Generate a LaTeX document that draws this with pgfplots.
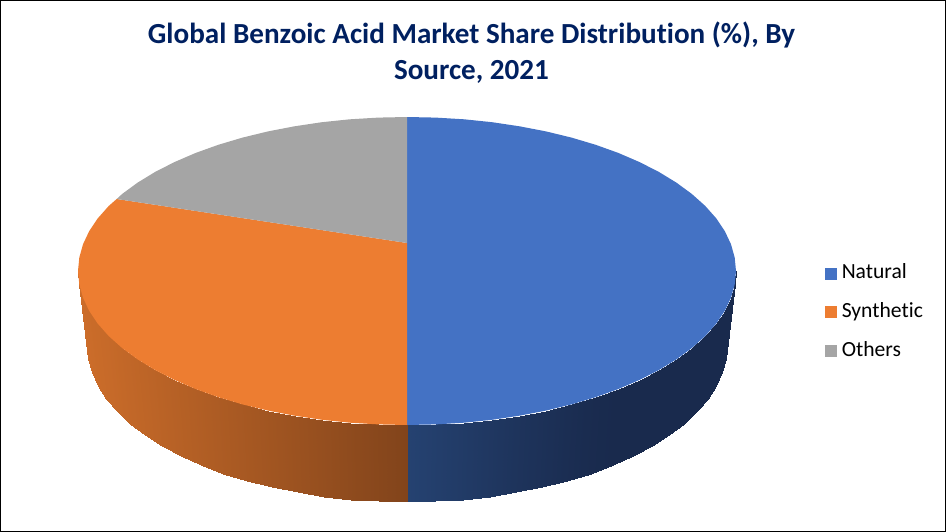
\documentclass[border=0pt]{standalone}
\usepackage{pgfplots}
\pgfplotsset{compat=1.18}
\usepackage{fontspec}
\setmainfont[Ligatures=NoCommon]{Carlito}

\definecolor{blueTop}{RGB}{68,114,196}
\definecolor{orangeTop}{RGB}{237,125,49}
\definecolor{greyTop}{RGB}{165,165,165}
\definecolor{titleBlue}{RGB}{0,32,96}

\pgfplotsset{
	colormap={sideblue}{rgb255(0cm)=(37,66,113); rgb255(1cm)=(25,42,77)},
	colormap={sideorange}{rgb255(0cm)=(204,109,42); rgb255(1cm)=(130,68,27)},
}

\begin{document}
\begin{tikzpicture}
\begin{axis}[
	hide axis,
	scale only axis,
	width=709.5pt,
	height=399pt,
	xmin=0, xmax=946,
	ymin=0, ymax=532,
	zmin=-1, zmax=1,
	y dir=reverse,
	view={0}{90},
	clip=false,
	point meta min=0,
	point meta max=1,
	legend cell align=left,
	legend style={
		at={(0.8715,0.5039)},
		anchor=north west,
		draw=none,
		fill=none,
		inner sep=0pt,
		font=\fontsize{16.2}{16.2}\selectfont,
		row sep=15pt,
		nodes={inner sep=0pt, text height=11pt, text depth=3pt},
		/tikz/every odd column/.style={column sep=3.8pt},
	},
	legend image code/.code={
		\fill[#1] (0pt,-4.5pt) rectangle (9pt,4.5pt);
	},
]
% side walls, one strip per 5 degrees
\addplot3[surf, forget plot, colormap name=sideblue, mesh/rows=2, shader=interp, point meta=\thisrow{c}] table {
x y z c
736.0 271.0 0 1
734.7 284.4 0 1
731.0 297.7 0 1
724.8 310.9 0 1
716.2 323.7 0 1
705.2 336.1 0 1
691.9 348.0 0 1
676.5 359.3 0 1
659.0 370.0 0 1
639.6 379.9 0 1
618.5 389.0 0 1
595.7 397.2 0 0.95
571.5 404.4 0 0.85
546.0 410.6 0 0.72
519.5 415.7 0 0.60
492.1 419.8 0 0.45
464.1 422.7 0 0.30
435.7 424.4 0 0.15
407.0 425.0 0 0
727.0 345.0 0 1
725.8 358.7 0 1
722.1 372.3 0 1
716.1 385.6 0 1
707.7 398.7 0 1
697.0 411.3 0 1
684.1 423.5 0 1
669.1 435.1 0 1
652.1 445.9 0 1
633.3 456.0 0 1
612.7 465.3 0 1
590.6 473.6 0 0.95
567.0 481.0 0 0.85
542.2 487.3 0 0.72
516.4 492.5 0 0.60
489.8 496.6 0 0.45
462.6 499.6 0 0.30
434.9 501.4 0 0.15
407.0 502.0 0 0
};
\addplot3[surf, forget plot, colormap name=sideorange, mesh/rows=2, shader=interp, point meta=\thisrow{c}] table {
x y z c
407.0 425.0 0 1
378.3 424.4 0 0.915
349.9 422.7 0 0.83
321.9 419.8 0 0.74
294.5 415.7 0 0.66
268.0 410.6 0 0.577
242.5 404.4 0 0.50
218.3 397.2 0 0.426
195.5 389.0 0 0.357
174.4 379.9 0 0.295
155.0 370.0 0 0.235
137.5 359.3 0 0.18
122.1 348.0 0 0.135
108.8 336.1 0 0.09
97.8 323.7 0 0.06
89.2 310.9 0 0.035
83.0 297.7 0 0.015
79.3 284.4 0 0
78.0 271.0 0 0
407.0 502.0 0 1
379.1 501.4 0 0.915
351.4 499.6 0 0.83
324.2 496.6 0 0.74
297.6 492.5 0 0.66
271.8 487.3 0 0.577
247.0 481.0 0 0.50
223.4 473.6 0 0.426
201.3 465.3 0 0.357
180.7 456.0 0 0.295
161.9 445.9 0 0.235
144.9 435.1 0 0.18
129.9 423.5 0 0.135
117.0 411.3 0 0.09
106.3 398.7 0 0.06
97.9 385.6 0 0.035
91.9 372.3 0 0.015
88.2 358.7 0 0
87.0 345.0 0 0
};
% top faces
\addplot[draw=none, fill=blueTop] coordinates {
(407,243) (407,117) (435.7,117.6) (464.1,119.3) (492.1,122.2) (519.5,126.3) (546.0,131.4)
(571.5,137.6) (595.7,144.8) (618.5,153.0) (639.6,162.1) (659.0,172.0) (676.5,182.7)
(691.9,194.0) (705.2,205.9) (716.2,218.3) (724.8,231.1) (731.0,244.3) (734.7,257.6)
(736,271) (734.7,284.4) (731.0,297.7) (724.8,310.9) (716.2,323.7) (705.2,336.1)
(691.9,348.0) (676.5,359.3) (659.0,370.0) (639.6,379.9) (618.5,389.0) (595.7,397.2)
(571.5,404.4) (546.0,410.6) (519.5,415.7) (492.1,419.8) (464.1,422.7) (435.7,424.4) (407,425)
} --cycle;
\addplot[draw=none, fill=orangeTop] coordinates {
(407,243) (407,425) (378.3,424.4) (349.9,422.7) (321.9,419.8) (294.5,415.7) (268.0,410.6)
(242.5,404.4) (218.3,397.2) (195.5,389.0) (174.4,379.9) (155.0,370.0) (137.5,359.3)
(122.1,348.0) (108.8,336.1) (97.8,323.7) (89.2,310.9) (83.0,297.7) (79.3,284.4) (78,271)
(79.3,257.6) (83.0,244.3) (89.2,231.1) (97.8,218.3) (108.8,205.9) (116.7,199)
} --cycle;
\addplot[draw=none, fill=greyTop] coordinates {
(407,243) (116.7,199) (122.1,194.0) (137.5,182.7) (155.0,172.0) (174.4,162.1) (195.5,153.0)
(218.3,144.8) (242.5,137.6) (268.0,131.4) (294.5,126.3) (321.9,122.2) (349.9,119.3)
(378.3,117.6) (407,117)
} --cycle;
\legend{Natural,Synthetic,Others}

\node[anchor=base, text=titleBlue, font=\fontsize{21.84}{21.84}\selectfont\bfseries] at (axis cs:471.5,43,0) {Global Benzoic Acid Market Share Distribution (\%), By};
\node[anchor=base, text=titleBlue, font=\fontsize{21.84}{21.84}\selectfont\bfseries] at (axis cs:471.5,79,0) {Source, 2021};
\draw[black, line width=0.9pt] (axis cs:0.6,0.6,0) -- (axis cs:945.4,0.6,0) -- (axis cs:945.4,531.4,0) -- (axis cs:0.6,531.4,0) -- cycle;
\end{axis}
\end{tikzpicture}
\end{document}
